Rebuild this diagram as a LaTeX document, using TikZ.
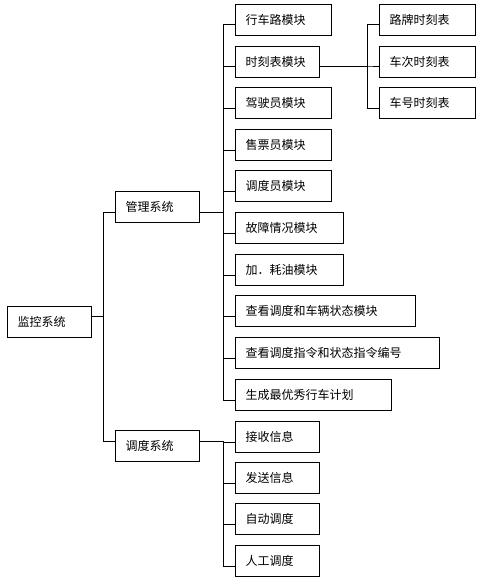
\documentclass[tikz,border=0pt]{standalone}
\usepackage{fontspec}
\newfontfamily\cjk{Noto Sans CJK SC}
\usetikzlibrary{calc}
\tikzset{
  blk/.style={draw,line width=1pt,anchor=north west,align=left,text width=#1,
    inner xsep=10pt,inner ysep=0pt,minimum height=31pt,
    font=\cjk\fontsize{12}{14}\selectfont},
  blk/.default=64pt,
  link/.style={line width=1pt}
}
\begin{document}
\begin{tikzpicture}[x=1pt,y=-1pt]
\useasboundingbox (0,0) rectangle (489,578);
% root and the two subsystems
\node[blk] (top) at (7,306) {监控系统};
\node[blk] (mgmt) at (115,191) {管理系统};
\node[blk] (disp) at (115,430) {调度系统};
% modules of the management system
\node[blk=76pt] (m1) at (235,4) {行车路模块};
\node[blk] (m2) at (235,46) {时刻表模块};
\node[blk=76pt] (m3) at (235,87) {驾驶员模块};
\node[blk=76pt] (m4) at (235,129) {售票员模块};
\node[blk=76pt] (m5) at (235,170) {调度员模块};
\node[blk=88pt] (m6) at (235,212) {故障情况模块};
\node[blk=88pt] (m7) at (235,254) {加．耗油模块};
\node[blk=160pt] (m8) at (235,295) {查看调度和车辆状态模块};
\node[blk=184pt] (m9) at (235,337) {查看调度指令和状态指令编号};
\node[blk=136pt] (m10) at (235,379) {生成最优秀行车计划};
% timetables
\node[blk=76pt] (t1) at (379,4) {路牌时刻表};
\node[blk=76pt] (t2) at (379,46) {车次时刻表};
\node[blk=76pt] (t3) at (379,87) {车号时刻表};
% modules of the dispatch system
\node[blk] (d1) at (235,421) {接收信息};
\node[blk] (d2) at (235,462) {发送信息};
\node[blk] (d3) at (235,503) {自动调度};
\node[blk] (d4) at (235,545) {人工调度};
% connectors
\draw[link] ([yshift=6pt]top.east) -| ([xshift=-12pt,yshift=-5pt]mgmt.west) -- ([yshift=-5pt]mgmt.west);
\draw[link] ([yshift=6pt]top.east) -| ([xshift=-12pt,yshift=5pt]disp.west) -- ([yshift=5pt]disp.west);
\foreach \c in {m1,m2,m3,m4,m5,m6,m7,m8,m9,m10}
  \draw[link] ([yshift=-5pt]mgmt.east) -| ([xshift=-12pt,yshift=-5pt]\c.west) -- ([yshift=-5pt]\c.west);
\foreach \c in {t1,t2,t3}
  \draw[link] ([yshift=-5pt]m2.east) -| ([xshift=-12pt,yshift=-5pt]\c.west) -- ([yshift=-5pt]\c.west);
\foreach \c in {d1,d2,d3,d4}
  \draw[link] ([yshift=5pt]disp.east) -| ([xshift=-12pt,yshift=-5pt]\c.west) -- ([yshift=-5pt]\c.west);
\end{tikzpicture}
\end{document}
